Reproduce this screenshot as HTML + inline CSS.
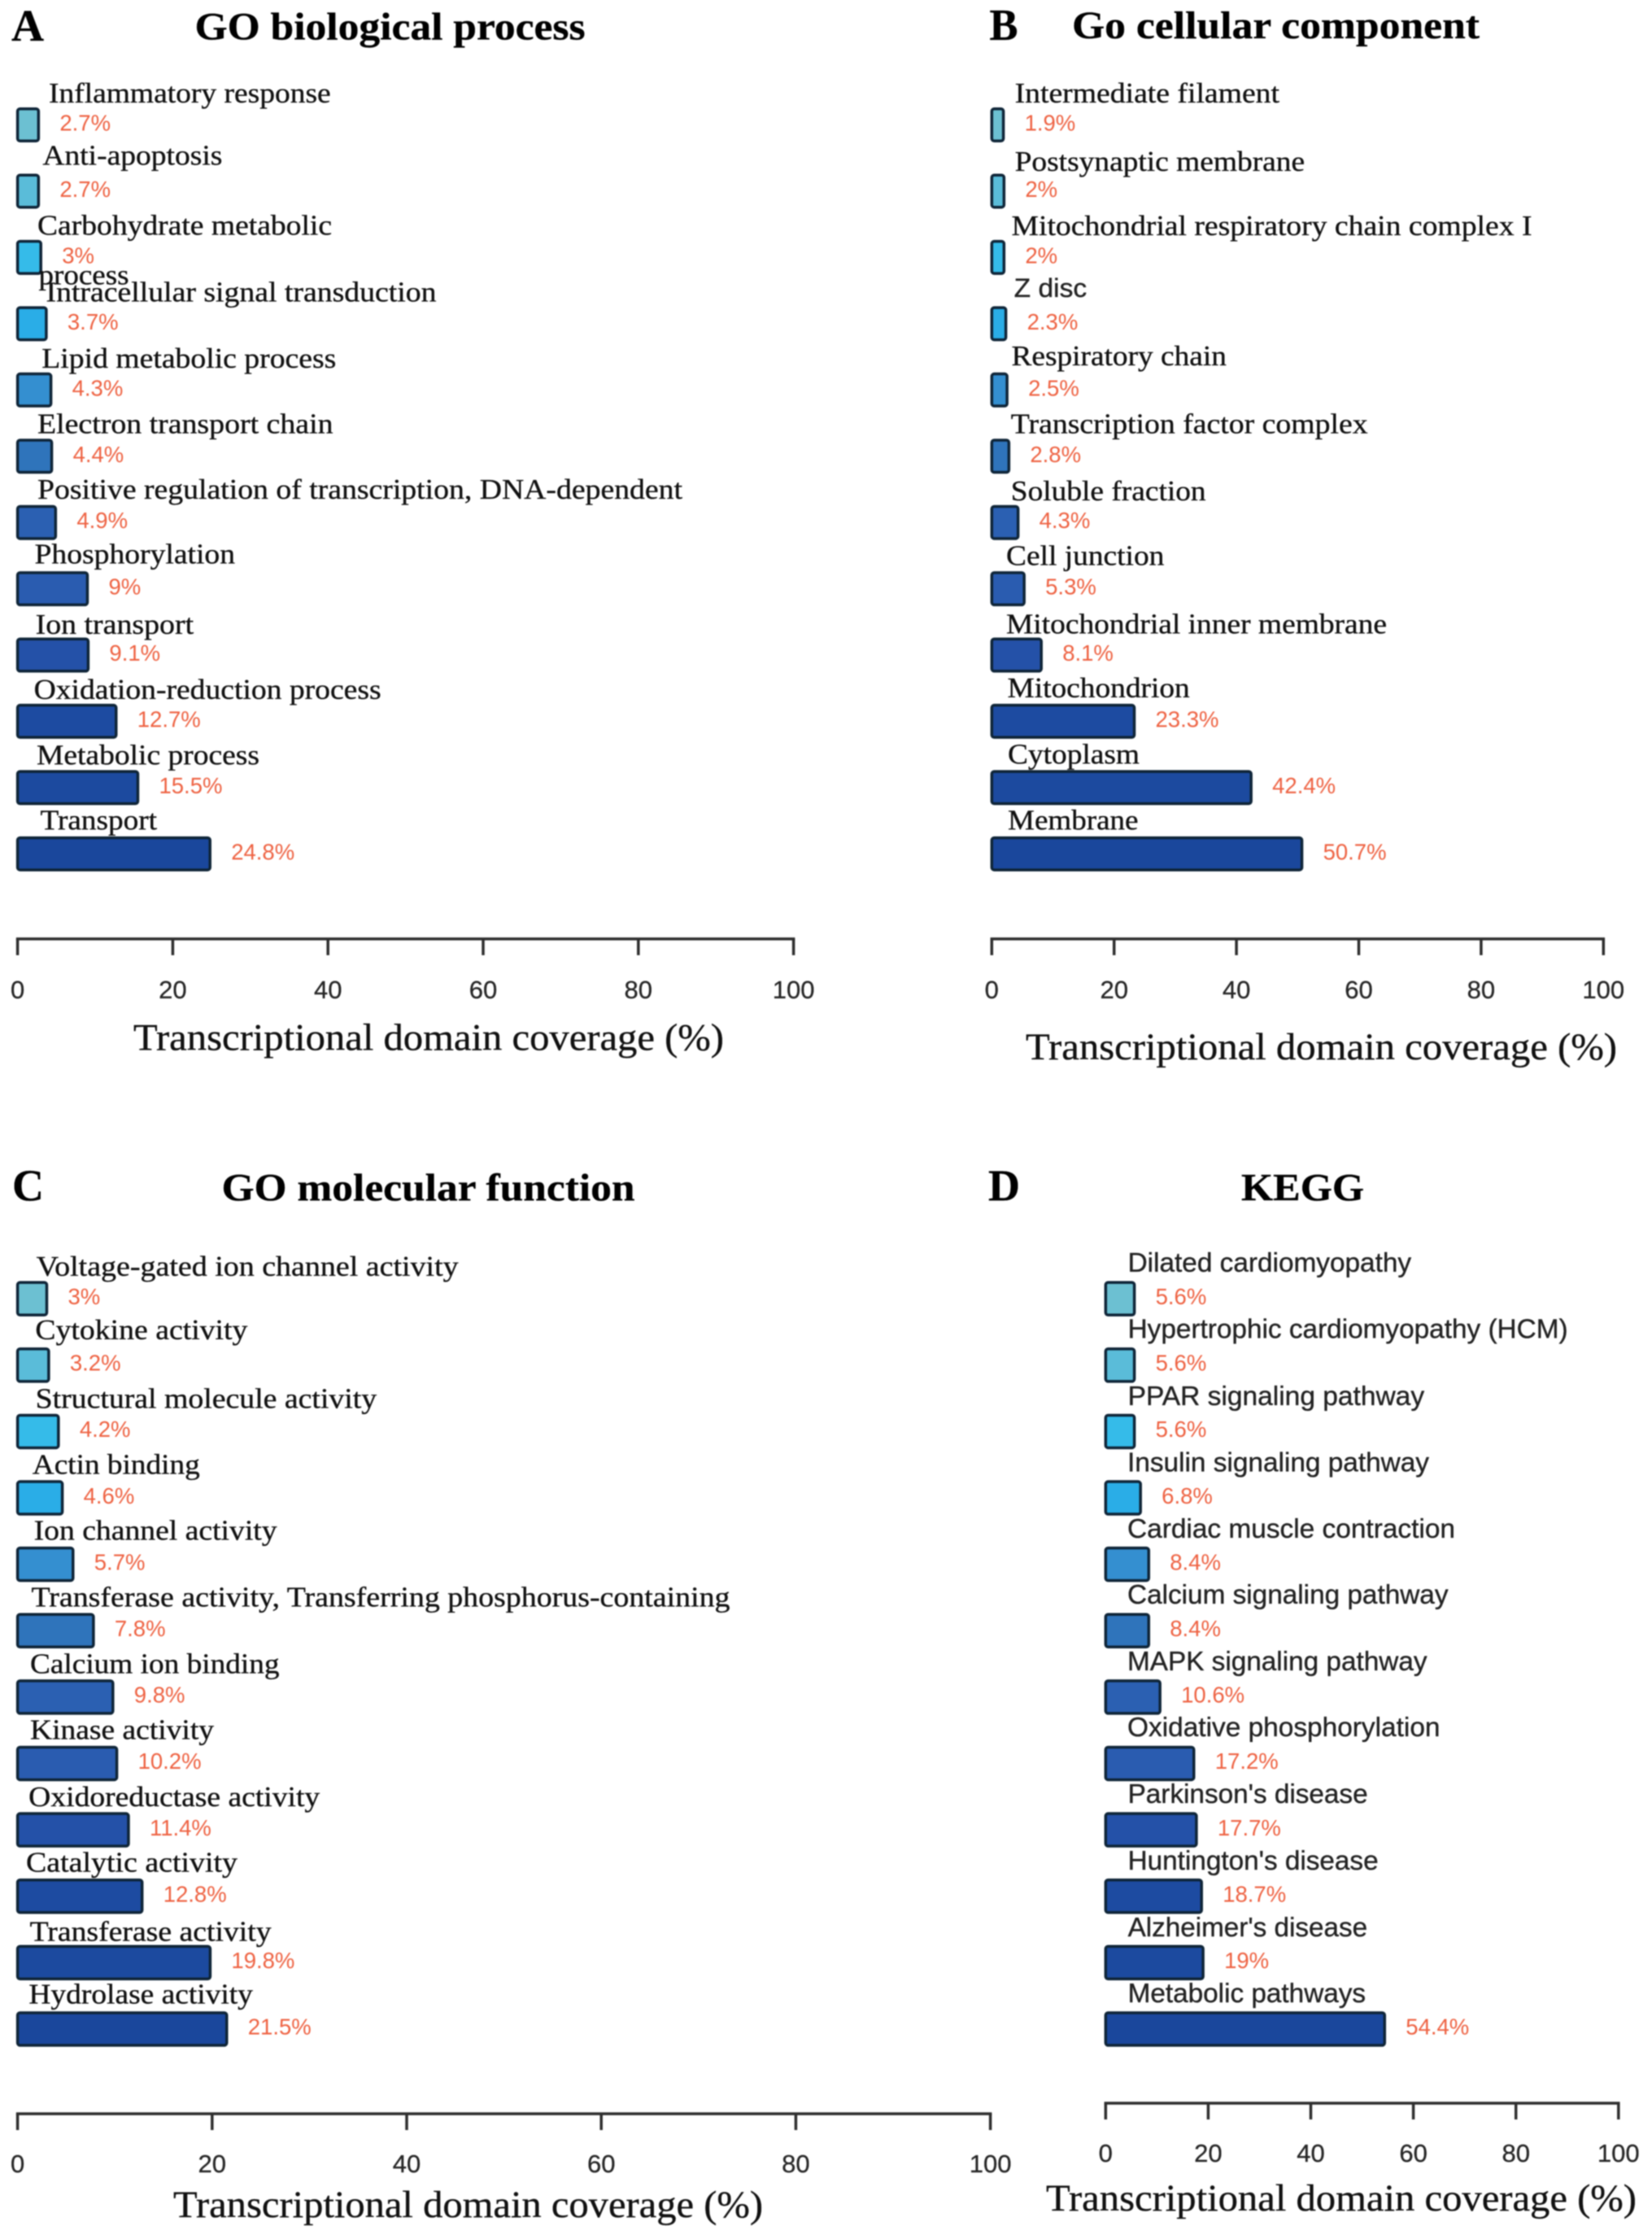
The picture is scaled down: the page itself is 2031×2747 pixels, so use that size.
<!DOCTYPE html>
<html lang="en">
<head>
<meta charset="utf-8">
<title>Transcriptional domain coverage: GO and KEGG</title>
<style>
  html, body { margin: 0; padding: 0; background: #fff; width: 2031px; height: 2747px; overflow: hidden; }
  svg { display: block; filter: blur(0.7px); }
  .serif { font-family: "Liberation Serif", serif; fill: #111; stroke: #111; stroke-width: 0.35px; }
  .sans { font-family: "Liberation Sans", sans-serif; fill: #222; stroke: #222; stroke-width: 0.35px; }
  .val { font-family: "Liberation Sans", sans-serif; fill: #ee6242; font-size: 27.5px; }
  .tick { font-family: "Liberation Sans", sans-serif; fill: #262626; stroke: #262626; stroke-width: 0.3px; font-size: 31px; text-anchor: middle; }
</style>
</head>
<body>
<svg id="fig" xmlns="http://www.w3.org/2000/svg" width="2031" height="2747" viewBox="0 0 2031 2747">
  <rect width="2031" height="2747" fill="#fff"/>
</svg>
<script>
// ---- data ----
const tickValues = [0, 20, 40, 60, 80, 100];

const categoriesA = ['Inflammatory response', 'Anti-apoptosis', 'Carbohydrate metabolic', 'Intracellular signal transduction', 'Lipid metabolic process', 'Electron transport chain', 'Positive regulation of transcription, DNA-dependent', 'Phosphorylation', 'Ion transport', 'Oxidation-reduction process', 'Metabolic process', 'Transport'];
const valuesA = [2.7, 2.7, 3, 3.7, 4.3, 4.4, 4.9, 9, 9.1, 12.7, 15.5, 24.8];

const categoriesB = ['Intermediate filament', 'Postsynaptic membrane', 'Mitochondrial respiratory chain complex I', 'Z disc', 'Respiratory chain', 'Transcription factor complex', 'Soluble fraction', 'Cell junction', 'Mitochondrial inner membrane', 'Mitochondrion', 'Cytoplasm', 'Membrane'];
const valuesB = [1.9, 2, 2, 2.3, 2.5, 2.8, 4.3, 5.3, 8.1, 23.3, 42.4, 50.7];

const categoriesC = ['Voltage-gated ion channel activity', 'Cytokine activity', 'Structural molecule activity', 'Actin binding', 'Ion channel activity', 'Transferase activity, Transferring phosphorus-containing', 'Calcium ion binding', 'Kinase activity', 'Oxidoreductase activity', 'Catalytic activity', 'Transferase activity', 'Hydrolase activity'];
const valuesC = [3, 3.2, 4.2, 4.6, 5.7, 7.8, 9.8, 10.2, 11.4, 12.8, 19.8, 21.5];

const categoriesD = ['Dilated cardiomyopathy', 'Hypertrophic cardiomyopathy (HCM)', 'PPAR signaling pathway', 'Insulin signaling pathway', 'Cardiac muscle contraction', 'Calcium signaling pathway', 'MAPK signaling pathway', 'Oxidative phosphorylation', "Parkinson's disease", "Huntington's disease", "Alzheimer's disease", 'Metabolic pathways'];
const valuesD = [5.6, 5.6, 5.6, 6.8, 8.4, 8.4, 10.6, 17.2, 17.7, 18.7, 19, 54.4];

// ---- layout (not data): hand-placed label boxes as in the figure ----
const fillRamp = ['#6cc0d2', '#5abcd9', '#35bbe9', '#2aade7', '#348fd0', '#2f74bb', '#2b60b2', '#2a5cb0', '#2451a8', '#1d4ba1', '#1c4a9f', '#1a479c'];

const panels = [
  {
    id: 'a', categories: categoriesA, values: valuesA, zero: 21.6, perUnit: 9.54,
    barTop: 132, rowStep: 81.45, barH: 43, valueDrop: 28.5,
    axisY: 1154, tickLen: 20, tickBase: 1227,
    axisTitle: { x: 164, y: 1290.5, w: 726 },
    title: { text: 'GO biological process', x: 239.5, y: 48.5, w: 480 },
    letter: { text: 'A', x: 14, y: 50, w: 40 },
    labelFont: 'serif', labelSize: 35,
    labelLeft: [60, 52.4, 46, 56.5, 51.3, 46, 46, 42.5, 43.6, 41.6, 45, 49.5],
    labelBase: [126, 202.5, 288.5, 370.5, 452, 532.5, 613, 692.5, 779, 859, 939.5, 1019.5],
    labelW: [346.7, 221, 362, 480, 362, 363.5, 793, 246.5, 194.5, 427, 274, 143.5]
  },
  {
    id: 'b', categories: categoriesB, values: valuesB, zero: 1219.3, perUnit: 7.52,
    barTop: 132, rowStep: 81.45, barH: 43, valueDrop: 28.5,
    axisY: 1154, tickLen: 20, tickBase: 1227,
    axisTitle: { x: 1261, y: 1302, w: 727 },
    title: { text: 'Go cellular component', x: 1318, y: 47, w: 501 },
    letter: { text: 'B', x: 1216.5, y: 49, w: 35 },
    labelFont: 'serif', labelSize: 35,
    labelLeft: [1247.6, 1247.6, 1243.5, 1246.7, 1243.5, 1242.8, 1242.8, 1237, 1237, 1238.5, 1239, 1239],
    labelBase: [126, 210, 289, 365, 449, 532.6, 615, 694.5, 778.6, 857, 938.5, 1019.5],
    labelW: [325.4, 356.5, 640, 89.4, 264.4, 438.8, 239.8, 194.4, 468, 224.2, 162, 160.5],
    sansRows: [3]
  },
  {
    id: 'c', categories: categoriesC, values: valuesC, zero: 21.6, perUnit: 11.96,
    barTop: 1574.5, rowStep: 81.6, barH: 43.5, valueDrop: 28.5,
    axisY: 2598, tickLen: 20, tickBase: 2670,
    axisTitle: { x: 213, y: 2725, w: 725 },
    title: { text: 'GO molecular function', x: 272.5, y: 1475.5, w: 508 },
    letter: { text: 'C', x: 15, y: 1475.5, w: 39 },
    labelFont: 'serif', labelSize: 35,
    labelLeft: [44.6, 43.4, 43.6, 39.8, 41.6, 38.5, 37, 37, 35.2, 32, 36.6, 35.4],
    labelBase: [1568, 1646, 1730.5, 1811.5, 1892.5, 1974.5, 2056.5, 2137.5, 2220, 2300.5, 2385.5, 2462.5],
    labelW: [519, 261, 419.6, 206, 299, 859, 306.5, 226, 358, 260, 297, 275.5]
  },
  {
    id: 'd', categories: categoriesD, values: valuesD, zero: 1359.3, perUnit: 6.305,
    barTop: 1574.5, rowStep: 81.6, barH: 43.5, valueDrop: 28.5,
    axisY: 2585, tickLen: 20, tickBase: 2657,
    axisTitle: { x: 1286, y: 2717, w: 726 },
    title: { text: 'KEGG', x: 1526, y: 1475.5, w: 151 },
    letter: { text: 'D', x: 1215, y: 1475.5, w: 39 },
    labelFont: 'sans', labelSize: 33,
    labelLeft: [1386.6, 1386.6, 1386.6, 1386, 1386, 1386, 1386, 1386, 1386.6, 1386.6, 1386.6, 1386.6],
    labelBase: [1563, 1644.6, 1727, 1808.5, 1890, 1971, 2053, 2134, 2216, 2298, 2380, 2461],
    labelW: [348.5, 541, 364.5, 371, 403, 394.5, 368.5, 384.5, 295, 308, 294.5, 292.5]
  }
];

// ---- drawing ----
const SVG_NS = 'http://www.w3.org/2000/svg';
const fig = document.getElementById('fig');

function make(parent, tag, attrs, text) {
  const node = document.createElementNS(SVG_NS, tag);
  for (const k in attrs) node.setAttribute(k, attrs[k]);
  if (text !== undefined) node.textContent = text;
  parent.appendChild(node);
  return node;
}

function drawPanel(p) {
  const x = function (v) { return p.zero + v * p.perUnit; };
  const rowTop = function (i) { return p.barTop + i * p.rowStep; };

  const g = make(fig, 'g', {});
  
  

  const letter = make(g, 'text', { x: p.letter.x, y: p.letter.y, class: 'serif', 'font-size': 55, 'font-weight': 'bold', textLength: p.letter.w, lengthAdjust: 'spacingAndGlyphs', style: 'fill:#000' }, p.letter.text);
  
  

  const title = make(g, 'text', { x: p.title.x, y: p.title.y, class: 'serif', 'font-size': 48, 'font-weight': 'bold', textLength: p.title.w, lengthAdjust: 'spacingAndGlyphs', style: 'fill:#000' }, p.title.text);
  
  

  p.values.forEach(function (v, i) {
    const top = rowTop(i);
    const bar = make(g, 'rect', { x: x(0), y: top + 1.75, width: x(v) - x(0), height: p.barH - 3.5, rx: 3, ry: 3, fill: fillRamp[i], stroke: '#0f2538', 'stroke-width': 3.5 });
    
    

    const val = make(g, 'text', { x: x(v) + 26, y: top + p.valueDrop, class: 'val' }, v + '%');
    
    
  });

  p.categories.forEach(function (c, i) {
    const sansRow = p.sansRows && p.sansRows.indexOf(i) >= 0;
    const label = make(g, 'text', { x: p.labelLeft[i], y: p.labelBase[i], class: sansRow ? 'sans' : p.labelFont, 'font-size': sansRow ? 32 : p.labelSize, textLength: p.labelW[i], lengthAdjust: 'spacingAndGlyphs' }, c);
    
    
  });

  const axis = make(g, 'line', { x1: x(tickValues[0]) - 1.75, x2: x(tickValues[tickValues.length - 1]) + 1.75, y1: p.axisY, y2: p.axisY, stroke: '#2e2e2e', 'stroke-width': 3.5 });
  
  

  tickValues.forEach(function (t) {
    const tick = make(g, 'line', { x1: x(t), x2: x(t), y1: p.axisY, y2: p.axisY + p.tickLen, stroke: '#2e2e2e', 'stroke-width': 3.5 });
    
    

    const tl = make(g, 'text', { x: x(t), y: p.tickBase, class: 'tick' }, String(t));
    
    
  });

  const at = make(g, 'text', { x: p.axisTitle.x, y: p.axisTitle.y, class: 'serif', 'font-size': 47, textLength: p.axisTitle.w, lengthAdjust: 'spacingAndGlyphs' }, 'Transcriptional domain coverage (%)');
  
  
}

panels.forEach(drawPanel);

// second line of the wrapped "Carbohydrate metabolic process" label
const wrapped = make(fig, 'text', { x: 47.5, y: 349.5, class: 'serif', 'font-size': 35, textLength: 111, lengthAdjust: 'spacingAndGlyphs' }, 'process');


</script>
</body>
</html>
